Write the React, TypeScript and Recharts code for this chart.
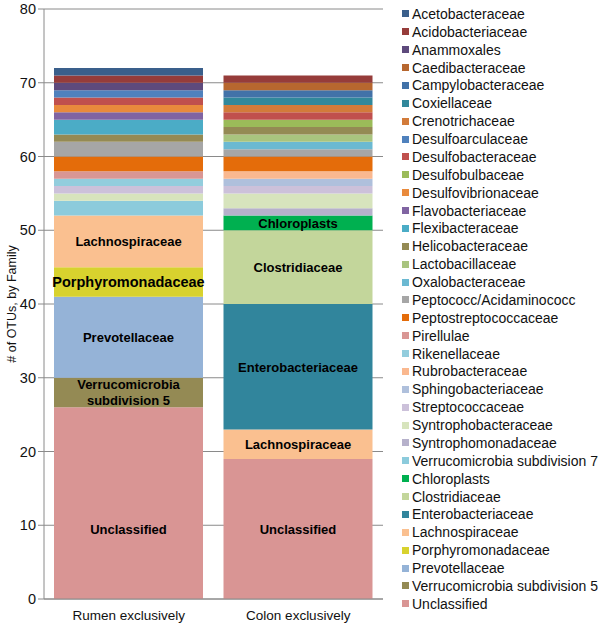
import { Bar, BarChart, CartesianGrid, LabelList, XAxis, YAxis } from "recharts";

const categories = ["Rumen exclusively", "Colon exclusively"];

// stacked bottom-first
const families = [
  "Unclassified",
  "Verrucomicrobia subdivision 5",
  "Prevotellaceae",
  "Porphyromonadaceae",
  "Lachnospiraceae",
  "Enterobacteriaceae",
  "Clostridiaceae",
  "Chloroplasts",
  "Verrucomicrobia subdivision 7",
  "Syntrophomonadaceae",
  "Syntrophobacteraceae",
  "Streptococcaceae",
  "Sphingobacteriaceae",
  "Rubrobacteraceae",
  "Rikenellaceae",
  "Pirellulae",
  "Peptostreptococcaceae",
  "Peptococc/Acidaminococc",
  "Oxalobacteraceae",
  "Lactobacillaceae",
  "Helicobacteraceae",
  "Flexibacteraceae",
  "Flavobacteriaceae",
  "Desulfovibrionaceae",
  "Desulfobulbaceae",
  "Desulfobacteraceae",
  "Desulfoarculaceae",
  "Crenotrichaceae",
  "Coxiellaceae",
  "Campylobacteraceae",
  "Caedibacteraceae",
  "Anammoxales",
  "Acidobacteriaceae",
  "Acetobacteraceae",
];

const rumenCounts = [26, 4, 11, 4, 7, 0, 0, 0, 2, 0, 1, 1, 0, 0, 1, 1, 2, 2, 0, 0, 1, 2, 1, 1, 0, 1, 1, 0, 0, 0, 0, 1, 1, 1];
const colonCounts = [19, 0, 0, 0, 4, 17, 10, 2, 0, 1, 2, 1, 1, 1, 0, 0, 2, 1, 1, 1, 1, 0, 0, 0, 1, 1, 0, 1, 1, 1, 1, 0, 1, 0];

const colors = [
  "#d99594", "#948a54", "#95b3d7", "#d8d22e", "#fac090", "#31859c", "#c3d69b", "#00b050",
  "#8ccbdc", "#b6b1cb", "#d7e4bd", "#ccc1da", "#afc0dc", "#fab88f", "#93cddd", "#d99694",
  "#e46c0a", "#a6a6a6", "#6bb9d2", "#a9c47f", "#948a54", "#4bacc6", "#8064a2", "#e98a3c",
  "#9bbb59", "#c0504d", "#4f81bd", "#d27b3a", "#31889b", "#4272a8", "#b7672f", "#5e4a7c",
  "#963c3a", "#3a5f8b",
];

const labelled = ["Unclassified", "Verrucomicrobia subdivision 5", "Prevotellaceae", "Porphyromonadaceae",
  "Lachnospiraceae", "Enterobacteriaceae", "Clostridiaceae", "Chloroplasts"];

const yTicks = [0, 10, 20, 30, 40, 50, 60, 70, 80];

const data = categories.map((name, i) => {
  const row: Record<string, string | number> = { name };
  families.forEach((f, j) => {
    row[f] = i === 0 ? rumenCounts[j] : colonCounts[j];
  });
  return row;
});

const FONT = "'Liberation Sans', Arial, sans-serif";

function makeLabel(family: string) {
  return (props: any) => {
    const { x, y, width, height, value } = props;
    if (!value) return null;
    const cx = x + width / 2;
    let cy = y + height / 2;
    if (family === "Unclassified") cy = y + height - 70;
    const style = { fontFamily: FONT, fontWeight: "bold" as const, fill: "#000" };
    if (family === "Verrucomicrobia subdivision 5") {
      return (
        <text x={cx} y={cy} textAnchor="middle" fontSize={13} style={style}>
          <tspan x={cx} dy={-4}>Verrucomicrobia</tspan>
          <tspan x={cx} dy={16}>subdivision 5</tspan>
        </text>
      );
    }
    return (
      <text x={cx} y={cy} dy={5} textAnchor="middle" fontSize={family === "Porphyromonadaceae" ? 14.5 : 13} style={style}>
        {family}
      </text>
    );
  };
}

function AxisTitle(props: any) {
  const vb = props.viewBox || { x: 0, y: 9, height: 590 };
  const cx = vb.x + 12;
  const cy = vb.y + vb.height / 2;
  return (
    <text x={cx} y={cy} transform={`rotate(-90 ${cx} ${cy})`} textAnchor="middle" dy={4}
      fontSize={12.5} fill="#111" fontFamily={FONT}>
      # of OTUs, by Family
    </text>
  );
}

function FamilyLegend() {
  const items = [...families].reverse();
  const colorOf = (f: string) => colors[families.indexOf(f)];
  return (
    <div style={{ position: "absolute", left: 402, top: 5, fontFamily: FONT, fontSize: 14, color: "#111" }}>
      {items.map((f) => (
        <div key={f} style={{ height: 17.88, display: "flex", alignItems: "center", whiteSpace: "nowrap" }}>
          <span style={{ width: 7, height: 7, background: colorOf(f), marginRight: 3, display: "inline-block" }} />
          {f}
        </div>
      ))}
    </div>
  );
}

export default function App() {
  return (
    <div style={{ position: "absolute", left: 0, top: 0, width: 600, height: 625, background: "#fff" }}>
      <BarChart
        width={600}
        height={625}
        data={data}
        margin={{ top: 9, right: 217, bottom: 0, left: 0 }}
        barSize={149}
      >
        <CartesianGrid vertical={false} stroke="#8a8a8a" />
        <XAxis
          dataKey="name"
          height={26}
          tickLine={false}
          axisLine={{ stroke: "#8a8a8a" }}
          tick={{ fontSize: 13.5, fill: "#111", fontFamily: FONT }}
          tickMargin={5}
          interval={0}
        />
        <YAxis
          width={44}
          domain={[0, 80]}
          ticks={yTicks}
          interval={0}
          tickSize={6}
          tickLine={{ stroke: "#8a8a8a" }}
          axisLine={{ stroke: "#8a8a8a" }}
          tick={{ fontSize: 14.5, fill: "#111", fontFamily: FONT }}
          label={<AxisTitle />}
        />
        {families.map((f, j) => (
          <Bar key={f} dataKey={f} stackId="a" fill={colors[j]} isAnimationActive={false}>
            {labelled.includes(f) && <LabelList dataKey={f} content={makeLabel(f)} />}
          </Bar>
        ))}
      </BarChart>
      <FamilyLegend />
    </div>
  );
}
